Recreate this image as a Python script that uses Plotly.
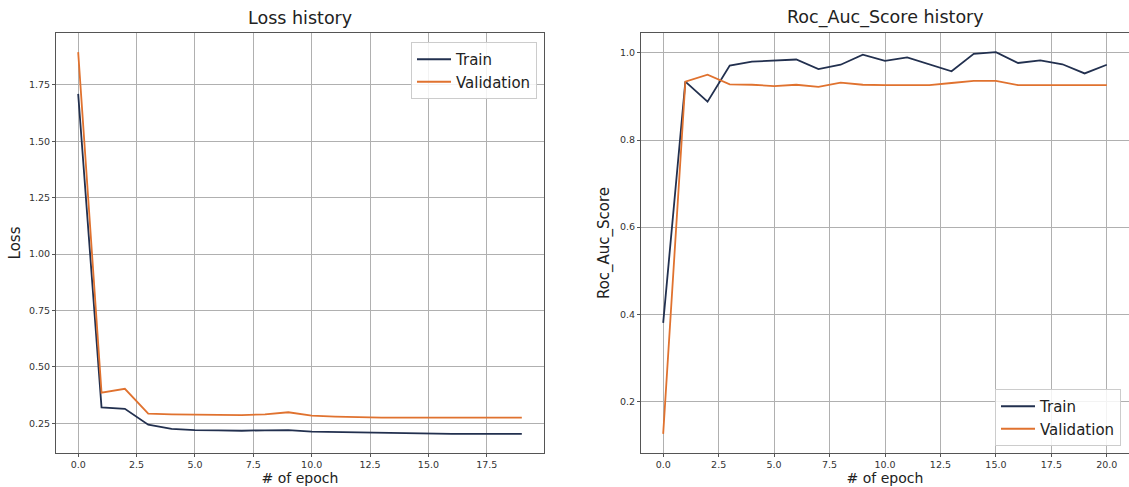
import plotly.graph_objects as go

# ---- data ----
epochs_loss = list(range(20))
loss_train = [1.71, 0.321, 0.314, 0.244, 0.225, 0.220, 0.219, 0.217, 0.219, 0.220,
              0.213, 0.211, 0.211, 0.210, 0.207, 0.204, 0.203, 0.203, 0.203, 0.203]
loss_val = [1.895, 0.386, 0.403, 0.293, 0.290, 0.287, 0.287, 0.286, 0.290, 0.299,
            0.284, 0.280, 0.277, 0.275, 0.275, 0.275, 0.275, 0.275, 0.275, 0.275]

epochs_auc = list(range(21))
auc_train = [0.38, 0.934, 0.888, 0.971, 0.980, 0.983, 0.985, 0.963, 0.973, 0.996,
             0.982, 0.990, 0.974, 0.958, 0.998, 1.002, 0.977, 0.983, 0.974, 0.953, 0.973]
auc_val = [0.125, 0.934, 0.950, 0.928, 0.927, 0.924, 0.927, 0.922, 0.932, 0.927,
           0.926, 0.926, 0.926, 0.931, 0.936, 0.936, 0.926, 0.926, 0.926, 0.926, 0.926]

loss_yticks = [0.25, 0.50, 0.75, 1.00, 1.25, 1.50, 1.75]
auc_yticks = [0.2, 0.4, 0.6, 0.8, 1.0]
xticks_loss = [0.0, 2.5, 5.0, 7.5, 10.0, 12.5, 15.0, 17.5]
xticks_auc = [0.0, 2.5, 5.0, 7.5, 10.0, 12.5, 15.0, 17.5, 20.0]

TRAIN_C = "#22304f"
VAL_C = "#e0722f"
FONT = "DejaVu Sans"
W, H = 1129, 487

fig = go.Figure()

fig.add_trace(go.Scatter(x=epochs_loss, y=loss_train, mode="lines", name="Train",
                         line=dict(color=TRAIN_C, width=1.8), xaxis="x", yaxis="y",
                         legend="legend"))
fig.add_trace(go.Scatter(x=epochs_loss, y=loss_val, mode="lines", name="Validation",
                         line=dict(color=VAL_C, width=1.8), xaxis="x", yaxis="y",
                         legend="legend"))
fig.add_trace(go.Scatter(x=epochs_auc, y=auc_train, mode="lines", name="Train",
                         line=dict(color=TRAIN_C, width=1.8), xaxis="x2", yaxis="y2",
                         legend="legend2"))
fig.add_trace(go.Scatter(x=epochs_auc, y=auc_val, mode="lines", name="Validation",
                         line=dict(color=VAL_C, width=1.8), xaxis="x2", yaxis="y2",
                         legend="legend2"))

axis_common = dict(showgrid=True, gridcolor="#b0b0b0", gridwidth=1,
                   showline=True, linecolor="#555555", linewidth=1, mirror=True,
                   ticks="outside", ticklen=3, tickcolor="#555555", tickwidth=1,
                   tickfont=dict(family=FONT, size=9.5, color="#333333"),
                   zeroline=False)

def xr(d):
    lo, hi = min(d), max(d)
    m = 0.05 * (hi - lo)
    return [lo - m, hi + m]

def yr(*series):
    lo = min(min(s) for s in series)
    hi = max(max(s) for s in series)
    m = 0.05 * (hi - lo)
    return [lo - m, hi + m]

LBL = 15
XLBL = 14

fig.update_layout(
    width=W, height=H,
    margin=dict(l=0, r=0, t=33, b=34),
    plot_bgcolor="white", paper_bgcolor="white",
    font=dict(family=FONT, color="#222222"),
    xaxis=dict(domain=[56 / W, 544 / W], range=xr(epochs_loss),
               tickmode="array", tickvals=xticks_loss,
               ticktext=[f"{v:.1f}" for v in xticks_loss],
               title=dict(text="# of epoch", font=dict(family=FONT, size=XLBL), standoff=0),
               anchor="y", **axis_common),
    yaxis=dict(domain=[0, 1], range=yr(loss_train, loss_val),
               tickmode="array", tickvals=loss_yticks,
               ticktext=[f"{v:.2f}" for v in loss_yticks],
               title=dict(text="Loss", font=dict(family=FONT, size=LBL), standoff=4),
               anchor="x", **axis_common),
    xaxis2=dict(domain=[641 / W, 1.0], range=xr(epochs_auc),
                tickmode="array", tickvals=xticks_auc,
                ticktext=[f"{v:.1f}" for v in xticks_auc],
                title=dict(text="# of epoch", font=dict(family=FONT, size=XLBL), standoff=0),
                anchor="y2", **axis_common),
    yaxis2=dict(domain=[0, 1], range=yr(auc_train, auc_val),
                tickmode="array", tickvals=auc_yticks,
                ticktext=[f"{v:.1f}" for v in auc_yticks],
                title=dict(text="Roc_Auc_Score", font=dict(family=FONT, size=LBL), standoff=6),
                anchor="x2", **axis_common),
    legend=dict(x=537 / W, xanchor="right", y=(453 - 42) / 420, yanchor="top",
                bgcolor="rgba(255,255,255,0.85)", bordercolor="#cccccc", borderwidth=1,
                font=dict(family=FONT, size=15, color="#222222"), itemwidth=34,
                tracegroupgap=0),
    legend2=dict(x=1121 / W, xanchor="right", y=(453 - 446) / 420, yanchor="bottom",
                 bgcolor="rgba(255,255,255,0.85)", bordercolor="#cccccc", borderwidth=1,
                 font=dict(family=FONT, size=15, color="#222222"), itemwidth=34,
                 tracegroupgap=0),
    annotations=[
        dict(text="Loss history", xref="paper", yref="paper",
             x=(56 + 544) / 2 / W, y=1, yshift=3, xanchor="center", yanchor="bottom",
             showarrow=False, font=dict(family=FONT, size=17.5, color="#222222")),
        dict(text="Roc_Auc_Score history", xref="paper", yref="paper",
             x=(641 + 1129) / 2 / W, y=1, yshift=3, xanchor="center", yanchor="bottom",
             showarrow=False, font=dict(family=FONT, size=17.5, color="#222222")),
    ],
)

fig.write_html("out.html")
